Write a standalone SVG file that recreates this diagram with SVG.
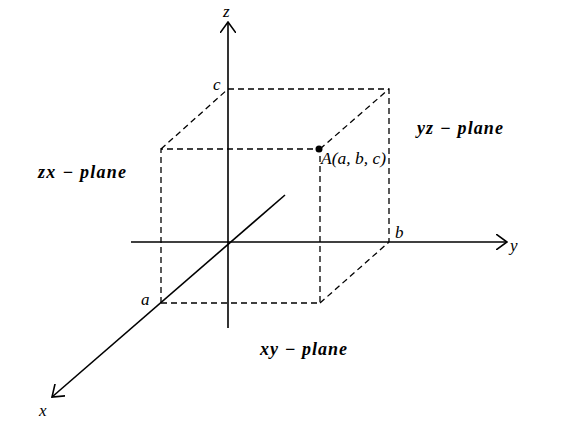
<svg xmlns="http://www.w3.org/2000/svg" width="564" height="429" viewBox="0 0 564 429">
<defs>
<marker id="arr" viewBox="0 0 12 16" refX="11" refY="8" markerWidth="12" markerHeight="16" markerUnits="userSpaceOnUse" orient="auto">
<path d="M0,0 L11,8 L0,16" fill="none" stroke="#000" stroke-width="1.6"/>
</marker>
<style>
.ax{stroke:#000;stroke-width:1.6;fill:none}
.d{stroke:#000;stroke-width:1.3;fill:none;stroke-dasharray:6 4}
.m{font-family:"Liberation Serif",serif;font-style:italic;font-size:17px;fill:#000}
.p{font-family:"Liberation Serif",serif;font-style:italic;font-weight:bold;font-size:18px;fill:#000}
</style>
</defs>
<rect width="564" height="429" fill="#fff"/>
<g id="connectors">
<line class="ax" x1="228" y1="328" x2="228" y2="22" marker-end="url(#arr)"/>
<line class="ax" x1="131" y1="242" x2="507" y2="242" marker-end="url(#arr)"/>
<line class="ax" x1="285" y1="195" x2="52" y2="397" marker-end="url(#arr)"/>
<path class="d" d="M228,89 H389 V242"/>
<path class="d" d="M161,303 V149 H320 V303 H161"/>
<line class="d" x1="161" y1="149" x2="228" y2="89"/>
<line class="d" x1="320" y1="149" x2="389" y2="89"/>
<line class="d" x1="320" y1="303" x2="389" y2="242"/>
</g>
<g id="pointA">
<circle cx="319" cy="149" r="3.5" fill="#000"/>
<text class="m" x="321" y="164" textLength="65" lengthAdjust="spacingAndGlyphs">A(a, b, c)</text>
</g>
<g id="labels">
<text class="m" x="223" y="17">z</text>
<text class="m" x="213" y="90">c</text>
<text class="m" x="395" y="238">b</text>
<text class="m" x="510" y="251">y</text>
<text class="m" x="141" y="305">a</text>
<text class="m" x="39" y="416">x</text>
</g>
<g id="planes">
<text class="p" x="38" y="178" textLength="88" lengthAdjust="spacing">zx − plane</text>
<text class="p" x="417" y="134" textLength="86" lengthAdjust="spacing">yz − plane</text>
<text class="p" x="260" y="355" textLength="87" lengthAdjust="spacing">xy − plane</text>
</g>
</svg>
